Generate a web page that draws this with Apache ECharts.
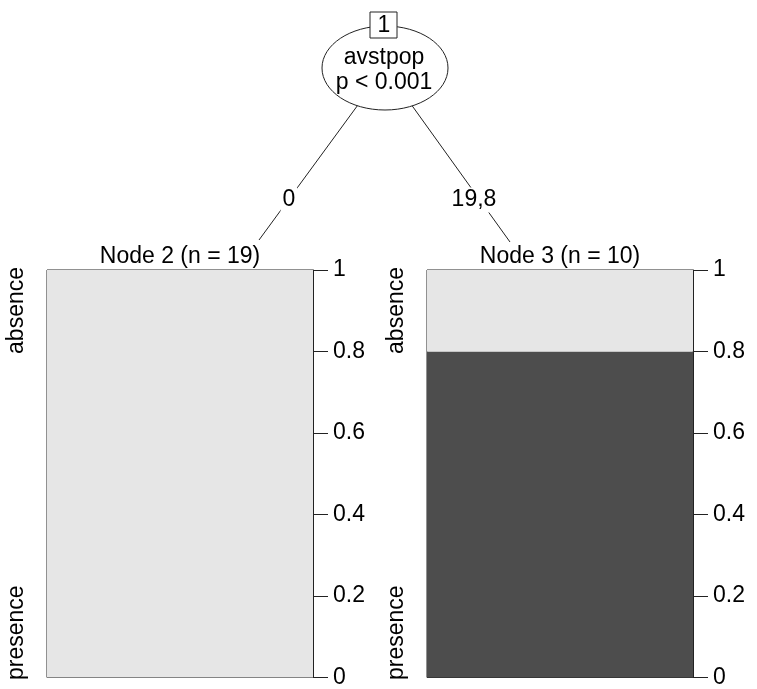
<!DOCTYPE html>
<html>
<head>
<meta charset="utf-8">
<script src="https://cdn.jsdelivr.net/npm/echarts@6/dist/echarts.min.js"></script>
<style>html,body{margin:0;padding:0;background:#fff}#c{width:757px;height:689px}</style>
</head>
<body>
<div id="c"></div>
<script>
// ---- data ----
var nodeLabels = ['Node 2 (n = 19)', 'Node 3 (n = 10)'];
var classNames = ['presence', 'absence'];
var presenceVals = [0, 0.8];
var absenceVals = [1, 0.2];
var splitVar = 'avstpop';
var splitP = 'p < 0.001';
var splitId = '1';
var edgeLabels = ['0', '19,8'];
var tickVals = [0, 0.2, 0.4, 0.6, 0.8, 1];

var FONT = '"Liberation Sans", Arial, sans-serif';
var FS = 23;
var chart = echarts.init(document.getElementById('c'));

var panels = [{left: 47}, {left: 427}];
var gridTop = 270, gridH = 412, gridW = 266;

var grids = [], xAxes = [], yAxes = [], series = [];
panels.forEach(function (p, i) {
  grids.push({left: p.left, top: gridTop, width: gridW, height: gridH,
    show: true, borderColor: '#222', borderWidth: 1, backgroundColor: 'transparent'});
  xAxes.push({type: 'category', gridIndex: i, data: [nodeLabels[i]], show: false});
  yAxes.push({type: 'value', gridIndex: i, position: 'right', min: 0, max: 1, interval: 0.2,
    splitLine: {show: false},
    axisLine: {show: true, lineStyle: {color: '#222', width: 1}},
    axisTick: {show: true, inside: false, length: 15, lineStyle: {color: '#222', width: 1}},
    axisLabel: {show: true, margin: 20, color: '#000', fontSize: FS, fontFamily: FONT,
      formatter: function (v) { return String(+v.toFixed(2)); }}});
  series.push({type: 'bar', xAxisIndex: i, yAxisIndex: i, stack: 's' + i, name: classNames[0],
    data: [presenceVals[i]], barWidth: '100%', itemStyle: {color: '#4d4d4d'}, silent: true, z: 1});
  series.push({type: 'bar', xAxisIndex: i, yAxisIndex: i, stack: 's' + i, name: classNames[1],
    data: [absenceVals[i]], barWidth: '100%', itemStyle: {color: '#e6e6e6'}, silent: true, z: 1});
});

var cx = 385, cy = 68;
var ends = [[259, 240], [510, 242]];
var edgeLabelPos = [[289, 200], [474, 200]];
var graphic = [];
ends.forEach(function (e, i) {
  graphic.push({type: 'line', shape: {x1: cx, y1: cy, x2: e[0], y2: e[1]},
    style: {stroke: '#222', lineWidth: 1}, z: 1});
  graphic.push({type: 'text', x: edgeLabelPos[i][0], y: edgeLabelPos[i][1], z: 3,
    style: {text: edgeLabels[i], fill: '#000', font: FS + 'px ' + FONT, align: 'center', verticalAlign: 'middle',
      backgroundColor: '#fff', padding: [1, 2]}});
});
graphic.push({type: 'ellipse', shape: {cx: cx, cy: cy, rx: 63, ry: 42},
  style: {fill: '#fff', stroke: '#222', lineWidth: 1}, z: 4});
graphic.push({type: 'rect', shape: {x: 370, y: 12, width: 27, height: 26},
  style: {fill: '#fff', stroke: '#222', lineWidth: 1}, z: 5});
graphic.push({type: 'text', x: 384, y: 26, z: 6,
  style: {text: splitId, fill: '#000', font: FS + 'px ' + FONT, align: 'center', verticalAlign: 'middle'}});
graphic.push({type: 'text', x: 384, y: 58, z: 6,
  style: {text: splitVar, fill: '#000', font: FS + 'px ' + FONT, align: 'center', verticalAlign: 'middle'}});
graphic.push({type: 'text', x: 384, y: 83, z: 6,
  style: {text: splitP, fill: '#000', font: FS + 'px ' + FONT, align: 'center', verticalAlign: 'middle'}});

panels.forEach(function (p, i) {
  graphic.push({type: 'text', x: p.left + gridW / 2, y: 257, z: 6,
    style: {text: nodeLabels[i], fill: '#000', font: FS + 'px ' + FONT, align: 'center', verticalAlign: 'middle'}});
  graphic.push({type: 'text', x: p.left - 30, y: 267, rotation: Math.PI / 2, z: 6,
    style: {text: classNames[1], fill: '#000', font: FS + 'px ' + FONT, align: 'right', verticalAlign: 'middle'}});
  graphic.push({type: 'text', x: p.left - 30, y: 680, rotation: Math.PI / 2, z: 6,
    style: {text: classNames[0], fill: '#000', font: FS + 'px ' + FONT, align: 'left', verticalAlign: 'middle'}});
});

chart.setOption({
  animation: false,
  backgroundColor: '#fff',
  grid: grids, xAxis: xAxes, yAxis: yAxes, series: series,
  graphic: graphic
});
</script>
</body>
</html>
